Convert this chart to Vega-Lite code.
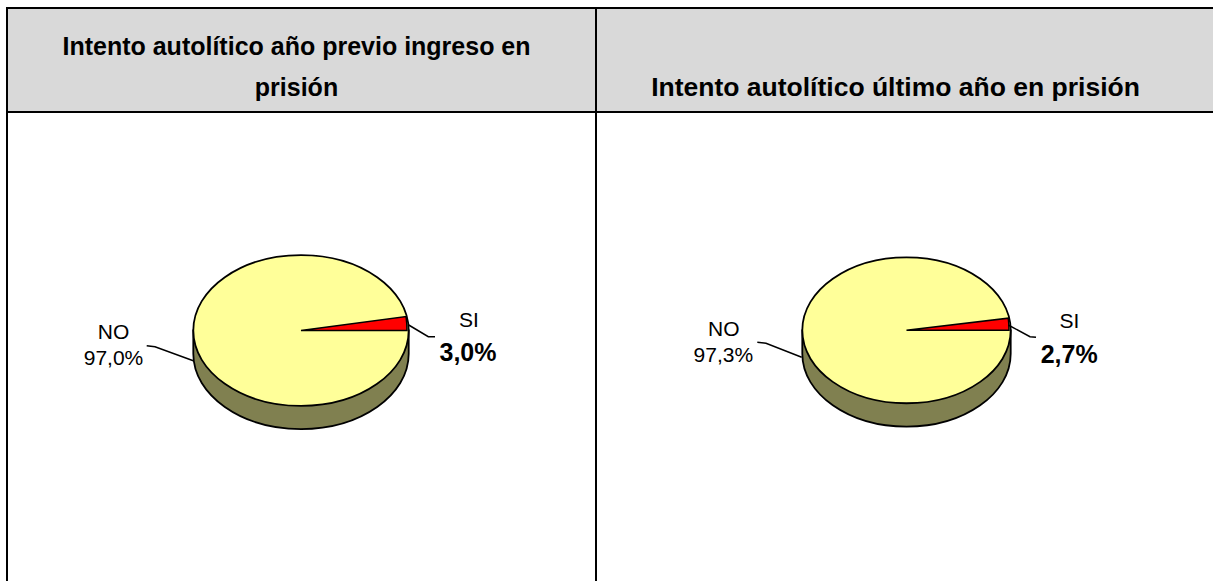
{
  "$schema": "https://vega.github.io/schema/vega-lite/v6.json",
  "background": "white",
  "padding": {"left": 6, "top": 7, "right": -2, "bottom": -3},
  "columns": 2,
  "spacing": 0,
  "bounds": "flush",
  "config": {
    "view": {"stroke": "black", "strokeWidth": 2},
    "locale": {"number": {"decimal": ",", "thousands": ".", "grouping": [3], "currency": ["", " €"]}},
    "text": {"font": "Liberation Sans", "color": "black"}
  },
  "datasets": {
    "hl": [{"title": "Intento autolítico año previo ingreso en\nprisión"}],
    "hr": [{"title": "Intento autolítico último año en prisión"}],
    "left": [{"cat": "NO", "share": 0.970}, {"cat": "SI", "share": 0.030}],
    "right": [{"cat": "NO", "share": 0.973}, {"cat": "SI", "share": 0.027}]
  },
  "concat": [
    {
      "width": 589, "height": 104,
      "view": {"fill": "#D9D9D9", "stroke": "black", "strokeWidth": 2},
      "data": {"name": "hl"},
      "mark": {"type": "text", "font": "Liberation Sans", "fontSize": 25, "fontWeight": "bold", "lineBreak": "\n", "lineHeight": 41, "align": "center", "baseline": "alphabetic", "xOffset": -5, "yOffset": -5, "color": "black"},
      "encoding": {"text": {"field": "title", "type": "nominal"}}
    },
    {
      "width": 618, "height": 104,
      "view": {"fill": "#D9D9D9", "stroke": "black", "strokeWidth": 2},
      "data": {"name": "hr"},
      "mark": {"type": "text", "font": "Liberation Sans", "fontSize": 26.5, "fontWeight": "bold", "align": "center", "baseline": "alphabetic", "xOffset": -9.5, "yOffset": 36, "color": "black"},
      "encoding": {"text": {"field": "title", "type": "nominal"}}
    },
    {
      "width": 589, "height": 471,
      "view": {"fill": "white", "stroke": "black", "strokeWidth": 2},
      "data": {"name": "left"},
      "layer": [
        {
          "transform": [{"filter": "datum.cat == 'NO'"}],
          "mark": {"type": "point", "shape": "M -1 0 L -1 0.215 C -1 0.6016 -0.5523 0.915 0 0.915 C 0.5523 0.915 1 0.6016 1 0.215 L 1 0 Z", "size": 46397, "filled": true, "fill": "#808050", "stroke": "black", "strokeWidth": 1.8, "opacity": 1, "xOffset": -0.5, "yOffset": -17},
          "encoding": {}
        },
        {
          "transform": [{"filter": "datum.cat == 'NO'"}],
          "mark": {"type": "point", "shape": "M 1 0 C 1 0.3866 0.5523 0.7 0 0.7 C -0.5523 0.7 -1 0.3866 -1 0 C -1 -0.3866 -0.5523 -0.7 0 -0.7 C 0.5523 -0.7 1 -0.3866 1 0 Z", "size": 46397, "filled": true, "fill": "#FFFF99", "stroke": "black", "strokeWidth": 1.8, "opacity": 1, "xOffset": -0.5, "yOffset": -17},
          "encoding": {}
        },
        {
          "transform": [
            {"stack": "share", "groupby": [], "sort": [{"field": "cat"}], "as": ["t0", "t1"]},
            {"filter": "datum.cat == 'SI'"}
          ],
          "mark": {"type": "arc", "radius": 106, "fill": "#FF0000", "stroke": "black", "strokeWidth": 1.5, "opacity": 1, "xOffset": -0.5, "yOffset": -17},
          "encoding": {
            "theta": {"field": "t0", "type": "quantitative", "scale": {"domain": [0, 1], "range": [-2.809, 1.5708]}},
            "theta2": {"field": "t1"}
          }
        },
        {
          "transform": [{"filter": "datum.cat == 'SI'"}],
          "mark": {"type": "point", "shape": "M 107.7 -5.5 L 127.3 6.2 L 134 6.2", "size": 4, "filled": false, "stroke": "black", "strokeWidth": 1.5, "opacity": 1, "xOffset": -0.5, "yOffset": -17},
          "encoding": {}
        },
        {
          "transform": [{"filter": "datum.cat == 'NO'"}],
          "mark": {"type": "point", "shape": "M -154.3 15.2 L -146 16.2 L -107.7 30.2", "size": 4, "filled": false, "stroke": "black", "strokeWidth": 1.5, "opacity": 1, "xOffset": -0.5, "yOffset": -17},
          "encoding": {}
        },
        {
          "transform": [{"filter": "datum.cat == 'NO'"}],
          "mark": {"type": "text", "fontSize": 21, "align": "center", "baseline": "alphabetic", "xOffset": -188, "yOffset": -8.3},
          "encoding": {"text": {"field": "cat", "type": "nominal"}}
        },
        {
          "transform": [{"filter": "datum.cat == 'NO'"}],
          "mark": {"type": "text", "fontSize": 21, "align": "center", "baseline": "alphabetic", "xOffset": -188, "yOffset": 17.5},
          "encoding": {"text": {"field": "share", "type": "quantitative", "format": ".1%"}}
        },
        {
          "transform": [{"filter": "datum.cat == 'SI'"}],
          "mark": {"type": "text", "fontSize": 21, "align": "center", "baseline": "alphabetic", "xOffset": 167.3, "yOffset": -20.8},
          "encoding": {"text": {"field": "cat", "type": "nominal"}}
        },
        {
          "transform": [{"filter": "datum.cat == 'SI'"}],
          "mark": {"type": "text", "fontSize": 25, "fontWeight": "bold", "align": "center", "baseline": "alphabetic", "xOffset": 166.5, "yOffset": 13.7},
          "encoding": {"text": {"field": "share", "type": "quantitative", "format": ".1%"}}
        }
      ]
    },
    {
      "width": 618, "height": 471,
      "view": {"fill": "white", "stroke": "black", "strokeWidth": 2},
      "data": {"name": "right"},
      "layer": [
        {
          "transform": [{"filter": "datum.cat == 'NO'"}],
          "mark": {"type": "point", "shape": "M -1 0 L -1 0.225 C -1 0.6116 -0.5523 0.925 0 0.925 C 0.5523 0.925 1 0.6116 1 0.225 L 1 0 Z", "size": 43430, "filled": true, "fill": "#808050", "stroke": "black", "strokeWidth": 1.8, "opacity": 1, "xOffset": 1.5, "yOffset": -17.2},
          "encoding": {}
        },
        {
          "transform": [{"filter": "datum.cat == 'NO'"}],
          "mark": {"type": "point", "shape": "M 1 0 C 1 0.3866 0.5523 0.7 0 0.7 C -0.5523 0.7 -1 0.3866 -1 0 C -1 -0.3866 -0.5523 -0.7 0 -0.7 C 0.5523 -0.7 1 -0.3866 1 0 Z", "size": 43430, "filled": true, "fill": "#FFFF99", "stroke": "black", "strokeWidth": 1.8, "opacity": 1, "xOffset": 1.5, "yOffset": -17.2},
          "encoding": {}
        },
        {
          "transform": [
            {"stack": "share", "groupby": [], "sort": [{"field": "cat"}], "as": ["t0", "t1"]},
            {"filter": "datum.cat == 'SI'"}
          ],
          "mark": {"type": "arc", "radius": 102.5, "fill": "#FF0000", "stroke": "black", "strokeWidth": 1.5, "opacity": 1, "xOffset": 1.5, "yOffset": -17.2},
          "encoding": {
            "theta": {"field": "t0", "type": "quantitative", "scale": {"domain": [0, 1], "range": [-2.809, 1.5708]}},
            "theta2": {"field": "t1"}
          }
        },
        {
          "transform": [{"filter": "datum.cat == 'SI'"}],
          "mark": {"type": "point", "shape": "M 101.8 -5.3 L 123.5 6.4 L 129.5 7", "size": 4, "filled": false, "stroke": "black", "strokeWidth": 1.5, "opacity": 1, "xOffset": 1.5, "yOffset": -17.2},
          "encoding": {}
        },
        {
          "transform": [{"filter": "datum.cat == 'NO'"}],
          "mark": {"type": "point", "shape": "M -149.2 12 L -140.5 13 L -104.8 27", "size": 4, "filled": false, "stroke": "black", "strokeWidth": 1.5, "opacity": 1, "xOffset": 1.5, "yOffset": -17.2},
          "encoding": {}
        },
        {
          "transform": [{"filter": "datum.cat == 'NO'"}],
          "mark": {"type": "text", "fontSize": 21, "align": "center", "baseline": "alphabetic", "xOffset": -181.2, "yOffset": -11.8},
          "encoding": {"text": {"field": "cat", "type": "nominal"}}
        },
        {
          "transform": [{"filter": "datum.cat == 'NO'"}],
          "mark": {"type": "text", "fontSize": 21, "align": "center", "baseline": "alphabetic", "xOffset": -181.7, "yOffset": 14.2},
          "encoding": {"text": {"field": "share", "type": "quantitative", "format": ".1%"}}
        },
        {
          "transform": [{"filter": "datum.cat == 'SI'"}],
          "mark": {"type": "text", "fontSize": 21, "align": "center", "baseline": "alphabetic", "xOffset": 164.5, "yOffset": -19.2},
          "encoding": {"text": {"field": "cat", "type": "nominal"}}
        },
        {
          "transform": [{"filter": "datum.cat == 'SI'"}],
          "mark": {"type": "text", "fontSize": 25, "fontWeight": "bold", "align": "center", "baseline": "alphabetic", "xOffset": 164.2, "yOffset": 15.4},
          "encoding": {"text": {"field": "share", "type": "quantitative", "format": ".1%"}}
        }
      ]
    }
  ]
}
